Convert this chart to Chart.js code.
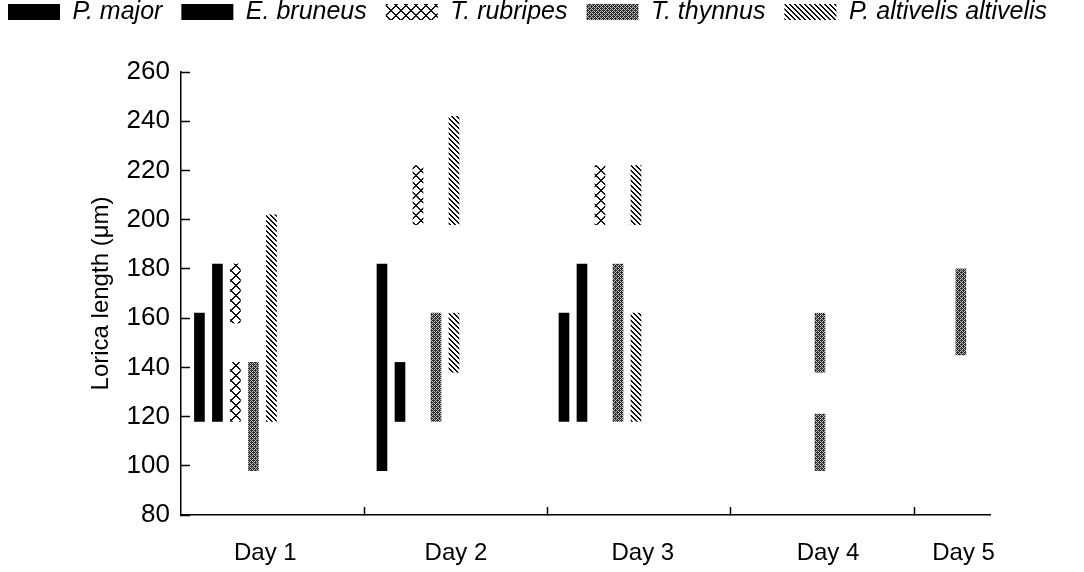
<!DOCTYPE html>
<html>
<head>
<meta charset="utf-8">
<script src="https://cdn.jsdelivr.net/npm/chart.js@4.4.1/dist/chart.umd.min.js"></script>
<style>
  html, body { margin: 0; padding: 0; background: #fff; }
  canvas { display: block; }
</style>
</head>
<body>
<canvas id="graficoLorica" width="1084" height="572"></canvas>
<script>
// Dias de coleta e espécies de peixe hospedeiro
const dias = ["Day 1", "Day 2", "Day 3", "Day 4", "Day 5"];
const especies = ["P. major", "E. bruneus", "T. rubripes", "T. thynnus", "P. altivelis altivelis"];

// Faixa do comprimento da lórica (µm) em cada dia: [mínimo, máximo], null = sem registro
const pMajor     = [[118, 162], [98, 182], [118, 162], null, null];
const eBruneus   = [[118, 182], [118, 142], [118, 182], null, null];
const tRubripes  = [[158, 182], [198, 222], [198, 222], null, null];
const tThynnus   = [[98, 142], [118, 162], [118, 182], [138, 162], [145, 180]];
const pAltivelis = [[118, 202], [198, 242], [198, 222], null, null];

// Segunda faixa, quando a espécie teve dois grupos de tamanho no mesmo dia
const tRubripes2  = [[118, 142], null, null, null, null];
const tThynnus2   = [null, null, null, [98, 121], null];
const pAltivelis2 = [null, [138, 162], [118, 162], null, null];

// Marcas do eixo y
const ticksY = [80, 100, 120, 140, 160, 180, 200, 220, 240, 260];

// Eixo x medido em "colunas" de dia
const centroGrupo = [0.297, 1.293, 2.286, 3.388, 4.157]; // centro de cada grupo de barras
const posRotulo = [0.46, 1.5, 2.52, 3.53, 4.27];         // onde fica o texto "Day n"
const divisorias = [1, 2, 3, 4];                         // tracinhos entre os dias
const fimEixoX = 4.414;

Chart.defaults.font.family = '"Liberation Sans", Arial, Helvetica, sans-serif';
Chart.defaults.color = "#000";

// Cria uma textura em tons de cinza a partir de uma função (x, y) -> 0..255
function criarTextura(lado, tom) {
    const tela = document.createElement("canvas");
    tela.width = lado;
    tela.height = lado;
    const g = tela.getContext("2d");
    const img = g.createImageData(lado, lado);
    for (let y = 0; y < lado; y++) {
        for (let x = 0; x < lado; x++) {
            const i = (y * lado + x) * 4;
            const v = tom(x, y);
            img.data[i] = v;
            img.data[i + 1] = v;
            img.data[i + 2] = v;
            img.data[i + 3] = 255;
        }
    }
    g.putImageData(img, 0, 0);
    return g.createPattern(tela, "repeat");
}

// xadrez em X (T. rubripes)
const texturaX = criarTextura(10, (x, y) =>
    ((x - y + 10) % 10 < 2 || (x + y) % 10 < 2) ? 20 : 255);

// pontilhado cinza (T. thynnus) - matriz de Bayer 4x4
const bayer = [[0, 8, 2, 10], [12, 4, 14, 6], [3, 11, 1, 9], [15, 7, 13, 5]];
const texturaCinza = criarTextura(4, (x, y) => bayer[y][x] < 10 ? 45 : 190);

// hachura diagonal (P. altivelis altivelis)
const texturaHachura = criarTextura(5, (x, y) => ((x - y + 5) % 5 < 2) ? 10 : 255);

const preenchimento = ["#000", "#000", texturaX, texturaCinza, texturaHachura];

// Converte a lista de faixas em pontos {x, y: [min, max]}
function pontos(faixas) {
    return faixas
        .map((f, i) => f ? { x: centroGrupo[i], y: f } : null)
        .filter(p => p !== null);
}

const faixasPrincipais = [pMajor, eBruneus, tRubripes, tThynnus, pAltivelis];

const conjuntos = faixasPrincipais.map((faixas, i) => ({
    label: especies[i],
    stack: especies[i],
    data: pontos(faixas),
    backgroundColor: preenchimento[i]
}));

// segundas faixas vão na mesma posição (stack) da espécie
[[tRubripes2, 2], [tThynnus2, 3], [pAltivelis2, 4]].forEach(([faixas, i]) => {
    conjuntos.push({
        label: especies[i],
        stack: especies[i],
        data: pontos(faixas),
        backgroundColor: preenchimento[i]
    });
});

// Deixa espaço entre a legenda e o topo do gráfico
const alturaLegenda = {
    id: "alturaLegenda",
    afterInit(chart) {
        const fitOriginal = chart.legend.fit;
        chart.legend.fit = function () {
            fitOriginal.call(this);
            this.height = 91.5;
        };
    }
};

const ctx = document.getElementById("graficoLorica");

new Chart(ctx, {
    type: "bar",
    data: { datasets: conjuntos },
    plugins: [alturaLegenda],
    options: {
        responsive: false,
        animation: false,
        events: [],
        layout: { padding: { top: -19.5, left: -11, right: 0, bottom: 0 } },
        datasets: {
            bar: {
                barThickness: 18,   // distância entre as barras do grupo
                maxBarThickness: 10, // largura visível de cada barra
                borderWidth: 0
            }
        },
        plugins: {
            tooltip: { enabled: false },
            legend: {
                position: "top",
                align: "start",
                labels: {
                    boxWidth: 52,
                    boxHeight: 16,
                    padding: 19,
                    color: "#000",
                    font: { size: 25, style: "italic" },
                    filter: item => item.datasetIndex < especies.length
                }
            }
        },
        scales: {
            x: {
                type: "linear",
                min: 0,
                max: fimEixoX,
                offset: false,
                stacked: true,
                afterBuildTicks: eixo => {
                    const marcas = divisorias.map(v => ({ value: v, divisoria: true }))
                        .concat(posRotulo.map((v, i) => ({ value: v, nome: dias[i] })));
                    eixo.ticks = marcas.sort((a, b) => a.value - b.value);
                },
                ticks: {
                    autoSkip: false,
                    maxRotation: 0,
                    padding: 32,
                    color: "#000",
                    font: { size: 24 },
                    callback: (valor, i, marcas) => marcas[i].nome || ""
                },
                grid: {
                    offset: false,
                    drawOnChartArea: false,
                    tickLength: -8,
                    tickWidth: 1.5,
                    tickColor: c => (c.tick && c.tick.divisoria) ? "#000" : "rgba(0,0,0,0)"
                },
                border: { color: "#000", width: 1.5 },
                afterFit: eixo => { eixo.height = 57; }
            },
            y: {
                min: 80,
                max: 260,
                stacked: false,
                afterBuildTicks: eixo => { eixo.ticks = ticksY.map(v => ({ value: v })); },
                ticks: { color: "#000", padding: 20, font: { size: 26 } },
                grid: {
                    drawOnChartArea: false,
                    tickLength: -9,
                    tickWidth: 1.5,
                    tickColor: "#000"
                },
                border: { color: "#000", width: 1.5 },
                title: {
                    display: true,
                    text: "Lorica length (μm)",
                    color: "#000",
                    font: { size: 24 },
                    padding: { top: 97.6 }
                },
                afterFit: eixo => { eixo.width = 192; }
            },
            // eixo vazio à direita, só para reservar a margem
            margemDireita: {
                type: "linear",
                position: "right",
                display: true,
                ticks: { display: false },
                grid: { display: false },
                border: { display: false },
                afterFit: eixo => { eixo.width = 94; }
            }
        }
    }
});
</script>
</body>
</html>
